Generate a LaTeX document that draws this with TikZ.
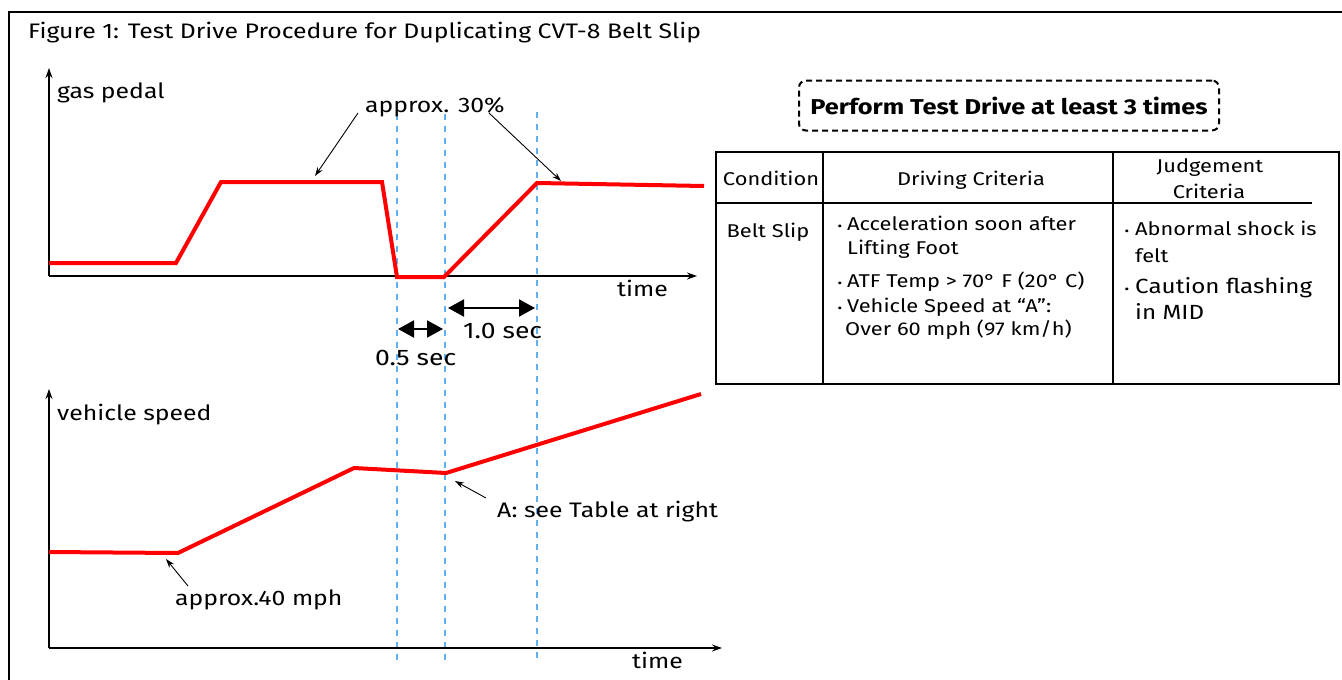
\documentclass[tikz,border=0pt]{standalone}
\usepackage{fontspec}
\setmainfont{Fira Sans}[FakeStretch=1.18]
\usetikzlibrary{arrows.meta}
\definecolor{guide}{RGB}{95,175,245}
\definecolor{curve}{RGB}{255,0,0}
\tikzset{
  txt/.style={inner sep=0pt, anchor=base west, font=\fontsize{21}{25}\selectfont},
  ttxt/.style={inner sep=0pt, anchor=base west, font=\fontsize{18.5}{22}\selectfont},
  ctxt/.style={inner sep=0pt, anchor=base, font=\fontsize{18.5}{22}\selectfont},
  bul/.style={inner sep=0pt, anchor=base, font=\fontsize{12}{12}\selectfont},
  axis/.style={line width=1.3pt, -{Stealth[length=10pt,width=7pt]}},
  sig/.style={draw=curve, line width=4pt, line join=miter},
  guideline/.style={draw=guide, line width=1.3pt, dash pattern=on 6pt off 6pt},
  note/.style={line width=0.9pt, -{Stealth[length=9pt,width=6pt]}},
  span/.style={line width=2pt, {Triangle[length=16pt,width=17pt]}-{Triangle[length=16pt,width=17pt]}},
  grid/.style={line width=1.5pt}
}
\begin{document}
\begin{tikzpicture}[x=1pt,y=-1pt]
\useasboundingbox (0,0) rectangle (1342,680);
% frame
\draw[line width=2pt] (9,682) -- (9,12) -- (1344,12);
\node[txt, font=\fontsize{21}{25}\selectfont] (title) at (28,38) {Figure 1: Test Drive Procedure for Duplicating CVT-8 Belt Slip};

% guide lines
\coordinate (g1t) at (397,114); \coordinate (g1b) at (397,664);
\coordinate (g2t) at (445,114); \coordinate (g2b) at (445,664);
\coordinate (g3t) at (537,112); \coordinate (g3b) at (537,658);
\draw[guideline] (g1t) -- (g1b);
\draw[guideline] (g2t) -- (g2b);
\draw[guideline] (g3t) -- (g3b);

% top chart
\coordinate (o1) at (49,276);
\coordinate (y1) at (49,68);
\coordinate (x1) at (697,276);
\draw[axis] (o1) -- (y1);
\draw[axis] (o1) -- (x1);
\node[txt] (gas) at (57,98) {gas pedal};
\node[txt] (time1) at (617,296) {time};
\draw[sig] (49,263) -- (176,263) -- (221,182) -- (382,182) -- (397,277) -- (444,277) -- (537,183) -- (704,186);

\node[txt] (p30) at (365,112) {approx. 30\%};
\coordinate (p30a) at (315,176);
\coordinate (p30b) at (561,181);
\draw[note] (358,113) -- (p30a);
\draw[note] (489,113) -- (p30b);

\coordinate (s1a) at (398,329); \coordinate (s1b) at (443,329);
\coordinate (s2a) at (448,308); \coordinate (s2b) at (535,308);
\draw[span] (s1a) -- (s1b);
\draw[span] (s2a) -- (s2b);
\node[txt, font=\fontsize{22.5}{26}\selectfont] (t10) at (463,338) {1.0 sec};
\node[txt, font=\fontsize{22.5}{26}\selectfont] (t05) at (375,365) {0.5 sec};

% bottom chart
\coordinate (o2) at (49,648);
\coordinate (y2) at (49,389);
\coordinate (x2) at (722,648);
\draw[axis] (o2) -- (y2);
\draw[axis] (o2) -- (x2);
\node[txt] (vs) at (57,420) {vehicle speed};
\node[txt] (time2) at (632,668) {time};
\draw[sig] (49,552) -- (178,553) -- (354,468) -- (446,473) -- (701,394);

\node[txt] (anote) at (497,517) {A: see Table at right};
\coordinate (aa) at (455,481);
\draw[note] (486,498) -- (aa);
\node[txt] (n40) at (175,605) {approx.40 mph};
\coordinate (na) at (166,559);
\draw[note] (188,586) -- (na);

% dashed box
\node[draw, line width=2pt, dash pattern=on 6pt off 4pt, rounded corners=7pt,
      minimum width=420pt, minimum height=50pt, inner sep=0pt,
      font=\bfseries\fontsize{21.5}{25}\selectfont] (box) at (1009,105.5) {Perform Test Drive at least 3 times};

% table
\draw[grid] (716,152) rectangle (1339,384);
\draw[grid] (823,152) -- (823,384);
\draw[grid] (1113,152) -- (1113,384);
\draw[grid] (716,203) -- (1312,203);
\node[ctxt] (hc) at (771,185) {Condition};
\node[ctxt] (hd) at (971,185) {Driving Criteria};
\node[ctxt] (hj1) at (1210,172) {Judgement};
\node[ctxt] (hj2) at (1209,198) {Criteria};
\node[ctxt] (bs) at (768,237) {Belt Slip};

\node[bul] (b1) at (840,230) {•};
\node[ttxt] (d1) at (847,230) {Acceleration soon after};
\node[ttxt] (d1b) at (847,254) {Lifting Foot};
\node[bul] (b2) at (840,287) {•};
\node[ttxt] (d2) at (847,287) {ATF Temp > 70° F (20° C)};
\node[bul] (b3) at (840,312) {•};
\node[ttxt] (d3) at (847,312) {Vehicle Speed at “A”:};
\node[ttxt] (d3b) at (845,335) {Over 60 mph (97 km/h)};

\node[bul] (b4) at (1127,235) {•};
\node[ttxt] (j1) at (1135,235) {Abnormal shock is};
\node[ttxt] (j1b) at (1135,262) {felt};
\node[bul] (b5) at (1127,293) {•};
\node[ttxt, font=\fontsize{20.5}{24}\selectfont] (j2) at (1135,293) {Caution flashing};
\node[ttxt, font=\fontsize{20.5}{24}\selectfont] (j2b) at (1135,319) {in MID};
\end{tikzpicture}
\end{document}
